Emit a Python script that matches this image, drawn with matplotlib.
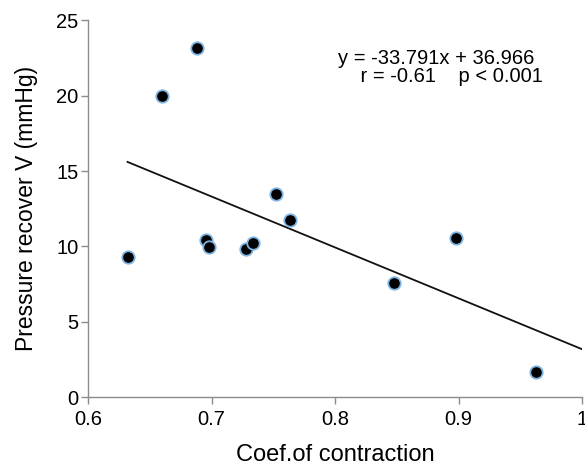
import matplotlib
matplotlib.use("Agg")
import matplotlib.pyplot as plt
import numpy as np

plt.rcParams['font.family'] = ['Liberation Sans', 'DejaVu Sans']

coef_contraction = [0.632, 0.660, 0.688, 0.6955, 0.698, 0.728, 0.7336, 0.752, 0.7636, 0.848, 0.898, 0.963]
pressure_recover = [9.3, 20.0, 23.2, 10.45, 9.95, 9.8, 10.25, 13.5, 11.75, 7.6, 10.55, 1.65]
slope = -33.791
intercept = 36.966
eq_text = "y = -33.791x + 36.966"
stat_text = "r = -0.61    p < 0.001"
x_ticks = [0.6, 0.7, 0.8, 0.9, 1.0]
x_tick_labels = ["0.6", "0.7", "0.8", "0.9", "1"]
y_ticks = [0, 5, 10, 15, 20, 25]

W, H = 585, 469
fig = plt.figure(figsize=(W / 100, H / 100), dpi=100)
ax = fig.add_axes([88 / W, 1 - 397 / H, (582 - 88) / W, (397 - 20.5) / H])

ax.scatter(coef_contraction, pressure_recover, s=80, c='black',
           edgecolors='#7fb3e0', linewidths=1.3, zorder=3)

xl = np.array([min(coef_contraction), 1.0])
ax.plot(xl, slope * xl + intercept, color='#111111', linewidth=1.3, zorder=2)

ax.set_xlim(0.6, 1.0)
ax.set_ylim(0, 25)
ax.set_xticks(x_ticks)
ax.set_xticklabels(x_tick_labels)
ax.set_yticks(y_ticks)
ax.tick_params(axis='both', labelsize=14.5, colors='#8c8c8c', labelcolor='black',
               length=5, width=1, direction='out')
ax.tick_params(axis='y', pad=2)
ax.tick_params(axis='x', pad=4)
for s in ['top', 'right']:
    ax.spines[s].set_visible(False)
for s in ['left', 'bottom']:
    ax.spines[s].set_color('#8c8c8c')
    ax.spines[s].set_linewidth(1)

ax.set_xlabel("Coef.of contraction", fontsize=17, labelpad=11)
ax.set_ylabel("Pressure recover V (mmHg)", fontsize=16.5, labelpad=13)

fig.text(338 / W, 1 - 82 / H, eq_text + "\n    " + stat_text, fontsize=14.5,
         ha='left', va='baseline', multialignment='left', linespacing=0.92)

fig.savefig("out.png", dpi=100)
